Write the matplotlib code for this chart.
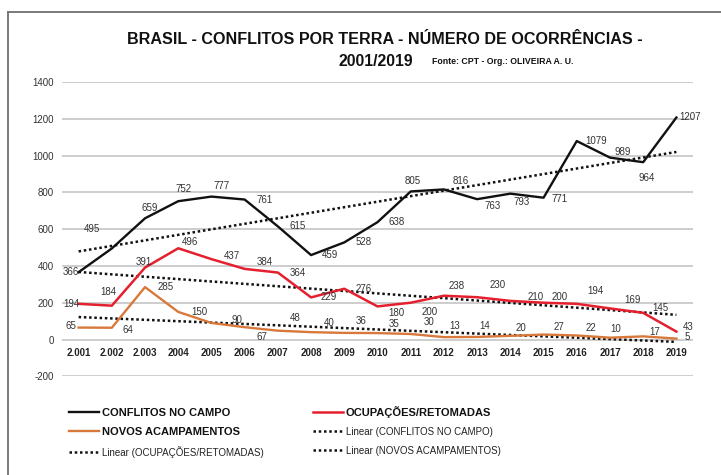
import numpy as np
import matplotlib
matplotlib.use("Agg")
import matplotlib.pyplot as plt
from matplotlib.lines import Line2D
from matplotlib import font_manager

# ---------------- data ----------------
years = ["2.001", "2.002", "2.003", "2004", "2005", "2006", "2007", "2008", "2009", "2010",
         "2011", "2012", "2013", "2014", "2015", "2016", "2017", "2018", "2019"]
conflitos = [366, 495, 659, 752, 777, 761, 615, 459, 528, 638,
             805, 816, 763, 793, 771, 1079, 989, 964, 1207]
ocupacoes = [194, 184, 391, 496, 437, 384, 364, 229, 276, 180,
             200, 238, 230, 210, 200, 194, 169, 145, 43]
acampamentos = [65, 64, 285, 150, 90, 67, 48, 40, 36, 35,
                30, 13, 14, 20, 27, 22, 10, 17, 5]
yticks = [-200, 0, 200, 400, 600, 800, 1000, 1200, 1400]

# label offsets (pixels) – styling only
off_conf = [(-8, 0), (-20, 19), (5, 10), (5, 12), (10, 11), (20, 0), (20, 0), (19, 0), (19, 0), (19, 0),
            (2, 10), (17, 8), (15, -7), (11, -8), (16, -1), (19, 0), (13, 6), (4, -16), (14, 0)]
off_ocup = [(-7, 0), (-3, 14), (-1, 6), (12, 6), (20, 3), (20, 7), (20, 0), (18, 0), (19, 0), (19, -7),
            (19, -9), (13, 10), (20, 12), (25, 4), (16, 6), (19, 13), (23, 8), (17, 5), (12, 5)]
off_acam = [(-8, 2), (16, -2), (21, 0), (21, 0), (25, 3), (17, -10), (17, 13), (18, 9), (17, 12), (17, 9),
            (18, 12), (11, 11), (8, 11), (11, 8), (15, 8), (14, 7), (6, 9), (12, 4), (11, 2)]

C_BLACK = "#111111"
C_RED = "#e5202e"
C_ORANGE = "#d8783a"

FONT = ["Liberation Sans", "DejaVu Sans"]
installed = {f.name for f in font_manager.fontManager.ttflist}
narrow_family = None
for cand in ["Liberation Sans Narrow", "DejaVu Sans Condensed"]:
    if cand in installed:
        narrow_family = cand
        break
plt.rcParams["font.family"] = FONT

W, H = 721, 475
fig = plt.figure(figsize=(W / 100, H / 100), dpi=100)
fig.patch.set_facecolor("white")

ax = fig.add_axes([62 / W, 1 - 376.3 / H, 631 / W, (376.3 - 82) / H])
x = np.arange(len(years))

ax.set_xlim(-0.5, len(years) - 0.5)
ax.set_ylim(-200, 1400)
ax.set_yticks(yticks)
ax.set_yticklabels([str(v) for v in yticks])
ax.yaxis.grid(True, color="#c9c9c9", lw=1.3)
ax.set_axisbelow(True)
for s in ax.spines.values():
    s.set_visible(False)
ax.spines["bottom"].set_position(("data", 0))
ax.set_xticks(x)
ax.set_xticklabels(years, fontweight="bold", fontsize=7, color="#222222")
ax.tick_params(axis="x", length=0, pad=6)
ax.tick_params(axis="y", length=0, pad=6, labelsize=7, labelcolor="#333333")

# series
l1, = ax.plot(x, conflitos, color=C_BLACK, lw=1.7, label="CONFLITOS NO CAMPO", zorder=4)
l2, = ax.plot(x, ocupacoes, color=C_RED, lw=1.8, label="OCUPAÇÕES/RETOMADAS", zorder=4)
l3, = ax.plot(x, acampamentos, color=C_ORANGE, lw=1.7, label="NOVOS ACAMPAMENTOS", zorder=4)

# linear trends
dots = (0, (1, 1.1))
trend_handles = []
for vals, name in [(conflitos, "CONFLITOS NO CAMPO"), (ocupacoes, "OCUPAÇÕES/RETOMADAS"),
                   (acampamentos, "NOVOS ACAMPAMENTOS")]:
    p = np.polyfit(x, vals, 1)
    t, = ax.plot(x, np.polyval(p, x), color="#111111", lw=1.8, linestyle=dots,
                 label=f"Linear ({name})", zorder=3)
    trend_handles.append(t)

# data labels
for vals, offs in [(conflitos, off_conf), (ocupacoes, off_ocup), (acampamentos, off_acam)]:
    for xi, v, (dx, dy) in zip(x, vals, offs):
        ax.annotate(str(v), (xi, v), xytext=(dx, dy), textcoords="offset pixels",
                    ha="center", va="center", fontsize=7, color="#333333", zorder=5)

# titles
fig.text(385 / W, 1 - 40 / H, "BRASIL - CONFLITOS POR TERRA - NÚMERO DE OCORRÊNCIAS -",
         ha="center", va="center", fontsize=11.6, fontweight="bold", color="#111111")
fig.text(376 / W, 1 - 61 / H, "2001/2019", ha="center", va="center",
         fontsize=11.3, fontweight="bold", color="#111111")
fig.text(432 / W, 1 - 62 / H, "Fonte: CPT - Org.: OLIVEIRA A. U.", ha="left", va="center",
         fontsize=6.3, fontweight="bold", color="#111111")

# legends: two columns placed separately
def style_legend(leg):
    for txt in leg.get_texts():
        if txt.get_text().startswith("Linear"):
            if narrow_family:
                txt.set_fontfamily([narrow_family, "Liberation Sans"])
                txt.set_fontsize(8)
            else:
                txt.set_fontsize(7)
            txt.set_color("#222222")
        else:
            txt.set_fontweight("bold")
            txt.set_color("#111111")

col1 = [l1, l3, trend_handles[1]]
col2 = [l2, trend_handles[0], trend_handles[2]]
for handles, xpos, ypos in [(col1, 60, 399), (col2, 304, 397)]:
    leg = fig.legend(handles, [h.get_label() for h in handles], loc="upper left",
                     bbox_to_anchor=(xpos / W, 1 - ypos / H), frameon=False,
                     handlelength=2.7, handletextpad=0.25, labelspacing=0.8,
                     fontsize=8, borderpad=0.3)
    style_legend(leg)

# outer frame (top + left)
fig.add_artist(Line2D([8 / W, 8 / W], [0, 1 - 12 / H], transform=fig.transFigure,
                      color="#707070", lw=1.3))
fig.add_artist(Line2D([8 / W, 1], [1 - 12 / H, 1 - 12 / H], transform=fig.transFigure,
                      color="#707070", lw=1.3))

fig.savefig("out.png", dpi=100, facecolor="white")
